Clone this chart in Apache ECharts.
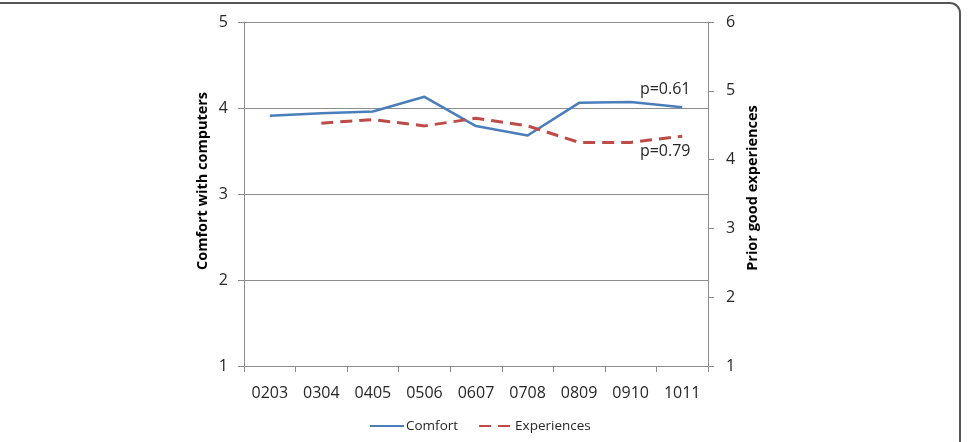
<!DOCTYPE html>
<html>
<head>
<meta charset="utf-8">
<script src="https://cdn.jsdelivr.net/npm/echarts@6/dist/echarts.min.js"></script>
<style>
  html, body { margin: 0; padding: 0; background: #fff; }
  #chart { width: 975px; height: 442px; }
</style>
</head>
<body>
<div id="chart"></div>
<script>
// school years
var years = ['0203', '0304', '0405', '0506', '0607', '0708', '0809', '0910', '1011'];
// comfort with computers (left axis)
var comfort = [3.91, 3.94, 3.96, 4.13, 3.79, 3.68, 4.06, 4.07, 4.01];
// prior good experiences (right axis), no value for the first year
var experiences = [null, 4.53, 4.58, 4.49, 4.60, 4.49, 4.25, 4.25, 4.34];
var pComfort = 'p=0.61';
var pExperiences = 'p=0.79';

var font = 'Open Sans';
var txt = '#262626';
var axisGray = '#8c8c8c';

// put the p-value label on the last point of a series
function withEndLabel(values, text, offset) {
    return values.map(function (v, i) {
        if (i !== values.length - 1) return v;
        return {
            value: v,
            label: {
                show: true, formatter: text, position: 'inside', offset: offset,
                color: txt, fontFamily: font, fontSize: 16
            }
        };
    });
}

var option = {
    animation: false,
    backgroundColor: '#fff',
    grid: { left: 244, right: 267, top: 22, bottom: 76 },
    legend: {
        data: ['Comfort', 'Experiences'],
        left: 364, top: 414,
        itemWidth: 34, itemHeight: 10, itemGap: 20,
        itemStyle: { opacity: 0 },
        textStyle: { color: txt, fontFamily: font, fontSize: 13.5, padding: [0, 0, 0, -3] }
    },
    xAxis: {
        type: 'category',
        data: years,
        boundaryGap: true,
        axisLine: { lineStyle: { color: axisGray, width: 1 } },
        axisTick: { show: true, length: 6, lineStyle: { color: axisGray } },
        axisLabel: { color: txt, fontFamily: font, fontSize: 16, margin: 19 }
    },
    yAxis: [{
        type: 'value', min: 1, max: 5, interval: 1, position: 'left',
        axisLine: { show: true, lineStyle: { color: axisGray } },
        axisTick: { show: true, length: 6, lineStyle: { color: axisGray } },
        splitLine: { show: true, lineStyle: { color: axisGray, width: 1 } },
        axisLabel: { color: txt, fontFamily: font, fontSize: 16, margin: 16 }
    }, {
        type: 'value', min: 1, max: 6, interval: 1, position: 'right',
        axisLine: { show: true, lineStyle: { color: axisGray } },
        axisTick: { show: true, length: 6, lineStyle: { color: axisGray } },
        splitLine: { show: false },
        axisLabel: { color: txt, fontFamily: font, fontSize: 16, margin: 18 }
    }],
    series: [{
        name: 'Comfort',
        type: 'line',
        yAxisIndex: 0,
        data: withEndLabel(comfort, pComfort, [-17, -18]),
        symbol: 'circle',
        symbolSize: 0,
        showSymbol: true,
        itemStyle: { color: '#4a7ebb' },
        lineStyle: { color: '#4a7ebb', width: 2.5 }
    }, {
        name: 'Experiences',
        type: 'line',
        yAxisIndex: 1,
        data: withEndLabel(experiences, pExperiences, [-17, 15]),
        symbol: 'circle',
        symbolSize: 0,
        showSymbol: true,
        itemStyle: { color: '#be4b48' },
        lineStyle: { color: '#be4b48', width: 3, type: [12, 7] }
    }],
    graphic: [{
        type: 'rect',
        shape: { x: -10, y: 3, width: 970, height: 470, r: 10 },
        style: { fill: 'none', stroke: '#555', lineWidth: 2 },
        silent: true
    }, {
        type: 'text',
        x: 203, y: 181, rotation: Math.PI / 2,
        style: {
            text: 'Comfort with computers', fill: '#000', font: 'bold 14.5px "Open Sans"',
            align: 'center', verticalAlign: 'middle'
        }
    }, {
        type: 'text',
        x: 753, y: 188, rotation: Math.PI / 2,
        style: {
            text: 'Prior good experiences', fill: '#000', font: 'bold 14.5px "Open Sans"',
            align: 'center', verticalAlign: 'middle'
        }
    }]
};

var myChart = echarts.init(document.getElementById('chart'));
myChart.setOption(option);
</script>
</body>
</html>
